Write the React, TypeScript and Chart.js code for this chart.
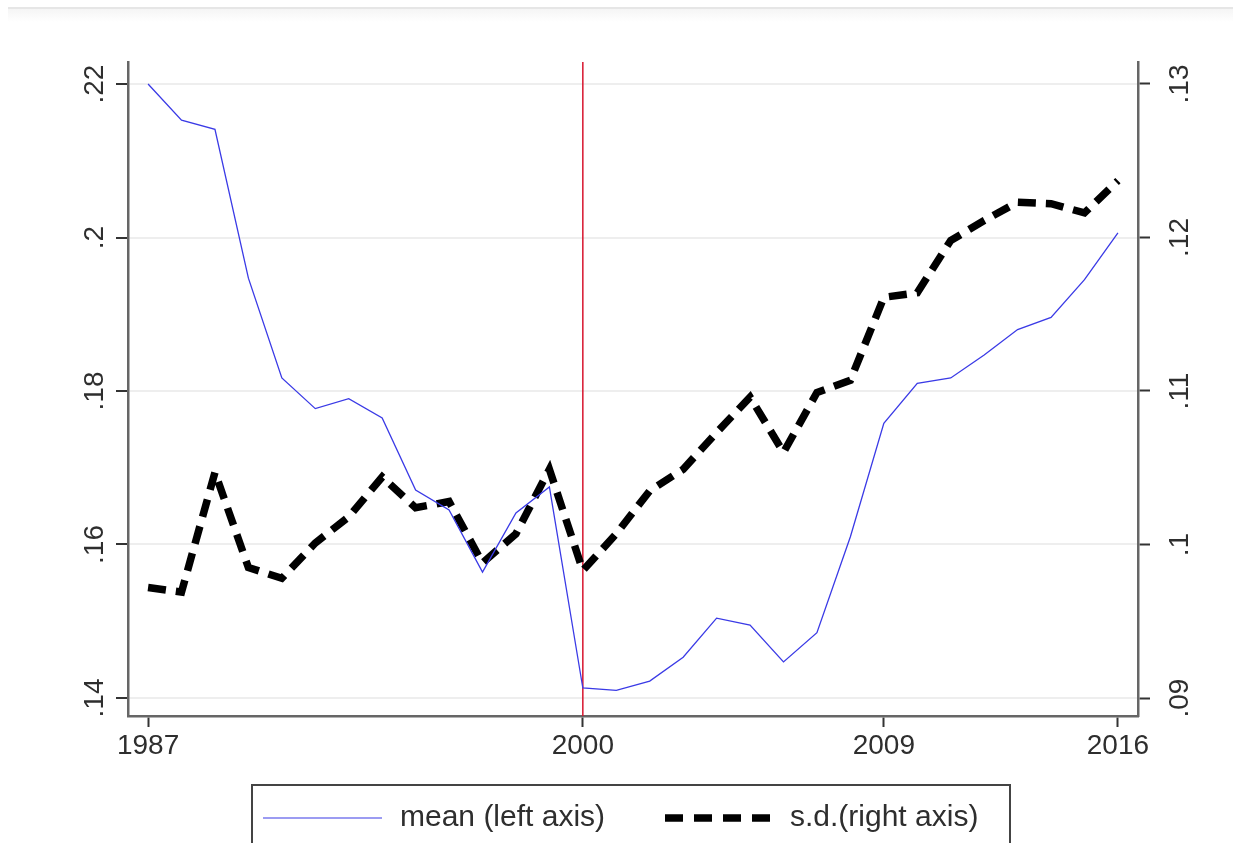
import React, { useEffect, useRef } from "react";
import { Chart, registerables } from "chart.js";

Chart.register(...registerables);

const years: number[] = [
  1987, 1988, 1989, 1990, 1991, 1992, 1993, 1994, 1995, 1996, 1997, 1998, 1999,
  2000, 2001, 2002, 2003, 2004, 2005, 2006, 2007, 2008, 2009, 2010, 2011, 2012,
  2013, 2014, 2015, 2016,
];

const meanValues: number[] = [
  0.22, 0.2153, 0.2141, 0.1947, 0.1817, 0.1777, 0.179, 0.1765, 0.1671, 0.1645,
  0.1564, 0.1641, 0.1675, 0.1413, 0.141, 0.1422, 0.1453, 0.1504, 0.1495, 0.1447,
  0.1485, 0.161, 0.1758, 0.181, 0.1817, 0.1847, 0.188, 0.1896, 0.1945, 0.2006,
];

const sdValues: number[] = [
  0.0972, 0.0969, 0.1047, 0.0985, 0.0978, 0.1001, 0.1018, 0.1044, 0.1024, 0.1028,
  0.0988, 0.1007, 0.1049, 0.0983, 0.1007, 0.1035, 0.1049, 0.1073, 0.1096, 0.106,
  0.1099, 0.1107, 0.1161, 0.1164, 0.1198, 0.1211, 0.1223, 0.1222, 0.1216, 0.1237,
];

const xTickValues: number[] = [1987, 2000, 2009, 2016];
const xTickLabels: string[] = ["1987", "2000", "2009", "2016"];
const leftTickValues: number[] = [0.14, 0.16, 0.18, 0.2, 0.22];
const leftTickLabels: string[] = [".14", ".16", ".18", ".2", ".22"];
const rightTickValues: number[] = [0.09, 0.1, 0.11, 0.12, 0.13];
const rightTickLabels: string[] = [".09", ".1", ".11", ".12", ".13"];
const dividerYear = 2000;
const seriesNames: string[] = ["mean (left axis)", "s.d.(right axis)"];

const FONT = '"Liberation Sans", Arial, sans-serif';
const TEXT_COLOR = "#2e2e2e";
const BLUE = "#3a3ae6";

export default function App() {
  const canvasRef = useRef<HTMLCanvasElement | null>(null);

  useEffect(() => {
    const canvas = canvasRef.current;
    if (!canvas) return;

    const decorPlugin = {
      id: "decor",
      beforeDraw(chart: any) {
        const ctx = chart.ctx;
        ctx.save();
        ctx.fillStyle = "#ffffff";
        ctx.fillRect(0, 0, chart.width, chart.height);
        ctx.fillStyle = "#e6e6e6";
        ctx.fillRect(8, 7, chart.width - 8, 2);
        const g = ctx.createLinearGradient(0, 9, 0, 22);
        g.addColorStop(0, "#f5f5f5");
        g.addColorStop(1, "#ffffff");
        ctx.fillStyle = g;
        ctx.fillRect(8, 9, chart.width - 8, 13);
        ctx.restore();
      },
      beforeDatasetsDraw(chart: any) {
        const ctx = chart.ctx;
        const xs = chart.scales.x;
        const area = chart.chartArea;
        const px = xs.getPixelForValue(dividerYear);
        ctx.save();
        ctx.strokeStyle = "rgb(215,20,45)";
        ctx.lineWidth = 1.5;
        ctx.beginPath();
        ctx.moveTo(px, area.top);
        ctx.lineTo(px, area.bottom);
        ctx.stroke();
        ctx.restore();
      },
      afterDraw(chart: any) {
        const ctx = chart.ctx;
        const area = chart.chartArea;
        const xs = chart.scales.x;
        const yl = chart.scales.yL;
        const yr = chart.scales.yR;
        ctx.save();
        ctx.fillStyle = TEXT_COLOR;
        ctx.font = `28px ${FONT}`;
        ctx.textAlign = "center";
        ctx.textBaseline = "middle";
        xTickValues.forEach((v, i) => {
          ctx.fillText(xTickLabels[i], xs.getPixelForValue(v), area.bottom + 30);
        });
        leftTickValues.forEach((v, i) => {
          ctx.save();
          ctx.translate(area.left - 33, yl.getPixelForValue(v));
          ctx.rotate(-Math.PI / 2);
          ctx.fillText(leftTickLabels[i], 0, 0);
          ctx.restore();
        });
        rightTickValues.forEach((v, i) => {
          ctx.save();
          ctx.translate(area.right + 42, yr.getPixelForValue(v));
          ctx.rotate(-Math.PI / 2);
          ctx.fillText(rightTickLabels[i], 0, 0);
          ctx.restore();
        });

        // legend
        const boxL = 252;
        const boxT = 785;
        const boxR = 1010;
        const boxB = 850;
        const ly = 818;
        ctx.strokeStyle = "#444444";
        ctx.lineWidth = 2;
        ctx.strokeRect(boxL, boxT, boxR - boxL, boxB - boxT);

        ctx.strokeStyle = BLUE;
        ctx.lineWidth = 1.2;
        ctx.beginPath();
        ctx.moveTo(263, ly);
        ctx.lineTo(382, ly);
        ctx.stroke();

        ctx.strokeStyle = "#000000";
        ctx.lineWidth = 7.5;
        ctx.setLineDash([18, 11]);
        ctx.beginPath();
        ctx.moveTo(665, ly);
        ctx.lineTo(776, ly);
        ctx.stroke();
        ctx.setLineDash([]);

        ctx.font = `30px ${FONT}`;
        ctx.textAlign = "left";
        ctx.fillStyle = TEXT_COLOR;
        ctx.fillText(seriesNames[0], 400, ly);
        ctx.fillText(seriesNames[1], 790, ly);
        ctx.restore();
      },
    };

    const chart = new Chart(canvas, {
      type: "line",
      data: {
        datasets: [
          {
            label: seriesNames[0],
            data: years.map((y, i) => ({ x: y, y: meanValues[i] })),
            yAxisID: "yL",
            borderColor: BLUE,
            borderWidth: 1.3,
            pointRadius: 0,
            tension: 0,
            fill: false,
          },
          {
            label: seriesNames[1],
            data: years.map((y, i) => ({ x: y, y: sdValues[i] })),
            yAxisID: "yR",
            borderColor: "#000000",
            borderWidth: 7.5,
            borderDash: [18, 10],
            borderCapStyle: "butt",
            pointRadius: 0,
            tension: 0,
            fill: false,
          },
        ],
      },
      options: {
        responsive: false,
        animation: false,
        events: [],
        layout: { padding: { left: 0, right: 0, top: 62, bottom: 0 } },
        plugins: {
          legend: { display: false },
          tooltip: { enabled: false },
          title: { display: false },
        },
        scales: {
          x: {
            type: "linear",
            min: 1986.4,
            max: 2016.6,
            afterBuildTicks: (s: any) => {
              s.ticks = xTickValues.map((v) => ({ value: v }));
            },
            afterFit: (s: any) => {
              s.height = 127;
            },
            ticks: { display: false },
            grid: {
              drawOnChartArea: false,
              drawTicks: true,
              tickLength: 11,
              tickColor: "#333333",
              tickWidth: 2,
            },
            border: { display: true, color: "#666666", width: 2.5 },
          },
          yL: {
            type: "linear",
            position: "left",
            min: 0.13765,
            max: 0.22287,
            afterBuildTicks: (s: any) => {
              s.ticks = leftTickValues.map((v) => ({ value: v }));
            },
            afterFit: (s: any) => {
              s.width = 128;
            },
            ticks: { display: false },
            grid: {
              drawOnChartArea: true,
              color: "#eeeeee",
              lineWidth: 2,
              drawTicks: true,
              tickLength: 12,
              tickColor: "#333333",
              tickWidth: 2,
            },
            border: { display: true, color: "#666666", width: 2.5 },
          },
          yR: {
            type: "linear",
            position: "right",
            min: 0.08883,
            max: 0.13143,
            afterBuildTicks: (s: any) => {
              s.ticks = rightTickValues.map((v) => ({ value: v }));
            },
            afterFit: (s: any) => {
              s.width = 95;
            },
            ticks: { display: false },
            grid: {
              drawOnChartArea: false,
              drawTicks: true,
              tickLength: 12,
              tickColor: "#333333",
              tickWidth: 2,
            },
            border: { display: true, color: "#666666", width: 2.5 },
          },
        },
      },
      plugins: [decorPlugin],
    } as any);

    return () => {
      chart.destroy();
    };
  }, []);

  return (
    <div style={{ position: "fixed", left: 0, top: 0, width: 1233, height: 843, background: "#fff" }}>
      <canvas ref={canvasRef} width={1233} height={843} style={{ display: "block" }} />
    </div>
  );
}
